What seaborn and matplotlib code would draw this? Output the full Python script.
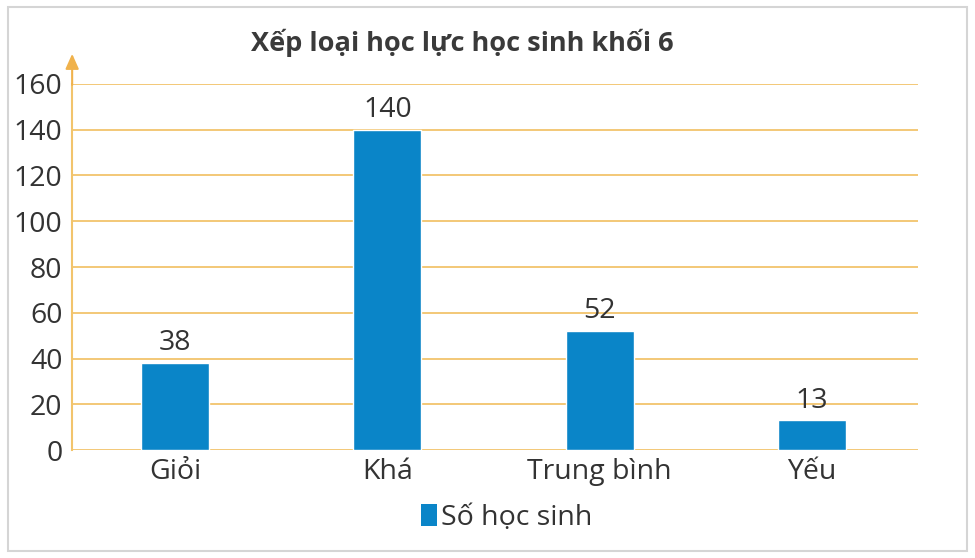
import matplotlib
matplotlib.use("Agg")
import matplotlib.pyplot as plt
import seaborn as sns
import pandas as pd
from matplotlib.patches import Rectangle, Patch

# Data
categories = ["Giỏi", "Khá", "Trung bình", "Yếu"]
students = [38, 140, 52, 13]
y_ticks = [0, 20, 40, 60, 80, 100, 120, 140, 160]

df = pd.DataFrame({"Xếp loại": categories, "Số học sinh": students})

sns.set_style("white")
plt.rcParams['font.family'] = ['Liberation Sans Narrow', 'Open Sans', 'DejaVu Sans']

bar_color = "#0a85c8"
grid_color = "#f2c46c"
text_color = "#333333"

fig = plt.figure(figsize=(9.75, 5.58), dpi=100)
ax = fig.add_axes([0.074, 0.1935, 0.8675, 0.656])

sns.barplot(data=df, x="Xếp loại", y="Số học sinh", color=bar_color,
            width=0.32, saturation=1, ax=ax, zorder=3)

ax.set_ylim(0, 160)
ax.set_xlim(-0.485, 3.5)
ax.set_yticks(y_ticks)
ax.set_xlabel("")
ax.set_ylabel("")
for y in y_ticks:
    ax.axhline(y, color=grid_color, lw=1.3, zorder=1)

for s in ["top", "right", "bottom"]:
    ax.spines[s].set_visible(False)
ax.spines["left"].set_color(grid_color)
ax.spines["left"].set_linewidth(1.5)
ax.tick_params(axis="both", length=0, colors=text_color, labelsize=20.5)
ax.tick_params(axis="x", pad=6)
ax.tick_params(axis="y", pad=7)

# arrow on the y axis
ax.annotate("", xy=(0, 1.09), xytext=(0, 0.99), xycoords="axes fraction",
            arrowprops=dict(arrowstyle="-|>,head_length=0.9,head_width=0.4",
                            color="#f0b24c", lw=1.5), annotation_clip=False)

# value labels
for i, v in enumerate(students):
    ax.text(i, v + 2.5, str(v), ha="center", va="bottom", fontsize=20.5, color=text_color)

fig.text(0.474, 0.924, "Xếp loại học lực học sinh khối 6", ha="center", va="center",
         fontsize=19.5, fontweight="bold", color="#3a3a3a")

handle = Patch(facecolor=bar_color, edgecolor="none")
fig.legend([handle], ["Số học sinh"], loc="center", bbox_to_anchor=(0.52, 0.072),
           frameon=False, fontsize=20.5, handlelength=0.55, handleheight=0.8,
           handletextpad=0.15, labelcolor=text_color)

fig.patches.append(Rectangle((0.008, 0.012), 0.984, 0.975, transform=fig.transFigure,
                             fill=False, edgecolor="#d5d5d5", lw=1.5))

fig.savefig("out.png", dpi=100)
